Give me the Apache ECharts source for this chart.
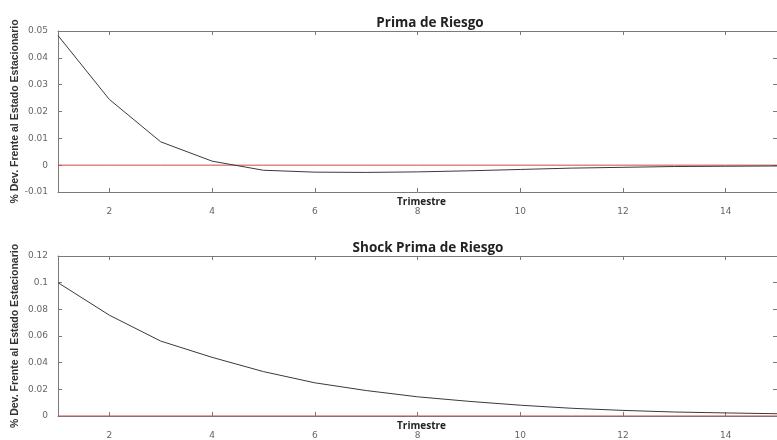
<!DOCTYPE html>
<html>
<head>
<meta charset="utf-8">
<script src="https://cdn.jsdelivr.net/npm/echarts@6/dist/echarts.min.js"></script>
<style>
html,body{margin:0;padding:0;background:#fff;}
#chart{width:777px;height:440px;}
</style>
</head>
<body>
<div id="chart"></div>
<script>
// Data
const quarters = [1,2,3,4,5,6,7,8,9,10,11,12,13,14,15];
const primaRiesgo = [0.0483,0.0245,0.0087,0.0015,-0.0019,-0.0026,-0.0027,-0.0025,-0.0021,-0.0016,-0.0011,-0.0008,-0.0005,-0.0004,-0.0003];
const shockPrima = [0.1,0.0756,0.0562,0.0440,0.0333,0.0249,0.0191,0.0144,0.0110,0.0081,0.0058,0.0042,0.0030,0.0023,0.0017];
const steadyState = [0,0,0,0,0,0,0,0,0,0,0,0,0,0,0];
const xTicks = [2,4,6,8,10,12,14];
const titles = ['Prima de Riesgo','Shock Prima de Riesgo'];
const xName = 'Trimestre';
const yName = '% Dev. Frente al Estado Estacionario';

const chart = echarts.init(document.getElementById('chart'), null, {renderer:'canvas'});
const axisColor = '#7a7a7a';
const labelColor = '#666';
const fmt = v => String(parseFloat(v.toFixed(4)));

function pairs(ys){ return quarters.map((q,i)=>[q, ys[i]]); }

const grids = [
  {left:58, right:-1, top:31, height:161},
  {left:58, right:-1, top:256, height:161}
];
const yRanges = [
  {min:-0.01, max:0.05, interval:0.01},
  {min:0, max:0.12, interval:0.02}
];

const xAxis = [], yAxis = [];
grids.forEach((g,i)=>{
  xAxis.push({
    type:'value', gridIndex:i, min:1, max:15, position:'bottom',
    name:xName, nameLocation:'middle', nameGap:5, nameMoveOverlap:false,
    nameTextStyle:{fontFamily:'Open Sans', fontWeight:'bold', fontSize:10, color:'#222', padding:[0,0,0,8], verticalAlign:'top'},
    axisLine:{show:true, onZero:false, lineStyle:{color:axisColor, width:1}},
    axisTick:{show:true, inside:true, length:4, customValues:xTicks, lineStyle:{color:axisColor}},
    axisLabel:{show:true, customValues:xTicks, margin:15, fontFamily:'DejaVu Sans', fontSize:9, color:labelColor},
    splitLine:{show:false}
  });
  xAxis.push({
    type:'value', gridIndex:i, min:1, max:15, position:'top',
    axisLine:{show:true, onZero:false, lineStyle:{color:axisColor, width:1}},
    axisTick:{show:true, inside:true, length:4, customValues:xTicks, lineStyle:{color:axisColor}},
    axisLabel:{show:false}, splitLine:{show:false}
  });
  const r = yRanges[i];
  yAxis.push({
    type:'value', gridIndex:i, min:r.min, max:r.max, interval:r.interval, position:'left',
    name:yName, nameLocation:'middle', nameRotate:90, nameGap:37, nameMoveOverlap:false,
    nameTextStyle:{fontFamily:'Liberation Sans', fontWeight:'bold', fontSize:10.5, color:'#333'},
    axisLine:{show:true, onZero:false, lineStyle:{color:axisColor, width:1}},
    axisTick:{show:true, inside:true, length:4, lineStyle:{color:axisColor}},
    axisLabel:{show:true, margin:10, formatter:fmt, fontFamily:'DejaVu Sans', fontSize:9, color:labelColor},
    splitLine:{show:false}
  });
  yAxis.push({
    type:'value', gridIndex:i, min:r.min, max:r.max, interval:r.interval, position:'right',
    axisLine:{show:true, onZero:false, lineStyle:{color:axisColor, width:1}},
    axisTick:{show:true, inside:true, length:4, lineStyle:{color:axisColor}},
    axisLabel:{show:false}, splitLine:{show:false}
  });
});

const seriesData = [primaRiesgo, shockPrima];
const series = [];
seriesData.forEach((ys,i)=>{
  series.push({
    type:'line', xAxisIndex:i*2, yAxisIndex:i*2, data:pairs(steadyState),
    symbol:'none', silent:true, lineStyle:{color:'#d04848', width:1}, z:2
  });
  series.push({
    type:'line', xAxisIndex:i*2, yAxisIndex:i*2, data:pairs(ys),
    symbol:'none', smooth:false, silent:true,
    lineStyle:{color:'#3a3a3a', width:1}, z:3
  });
});

chart.setOption({
  backgroundColor:'#fff',
  animation:false,
  title:[
    {text:titles[0], left:425, top:11, textAlign:'center',
     textStyle:{fontFamily:'Open Sans', fontWeight:'bold', fontSize:13.5, color:'#222'}},
    {text:titles[1], left:423, top:236, textAlign:'center',
     textStyle:{fontFamily:'Open Sans', fontWeight:'bold', fontSize:13.5, color:'#222'}}
  ],
  grid:grids,
  xAxis:xAxis,
  yAxis:yAxis,
  series:series
});
</script>
</body>
</html>
